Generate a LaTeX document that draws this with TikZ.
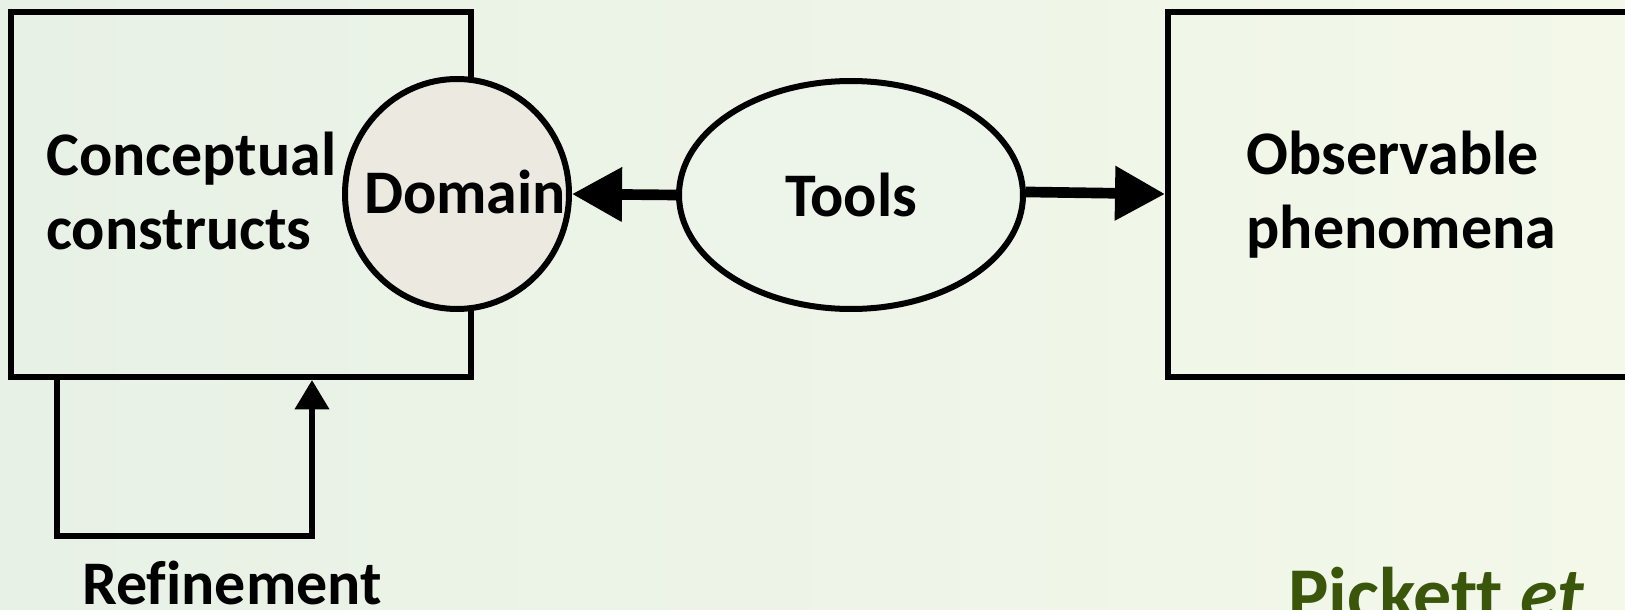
\documentclass[tikz,border=0pt]{standalone}
\usepackage{fontspec}
\setmainfont[Ligatures=NoCommon]{Carlito}
\usetikzlibrary{arrows.meta,shapes.geometric}
\definecolor{bgleft}{RGB}{232,241,230}
\definecolor{bgright}{RGB}{243,248,233}
\definecolor{domainfill}{RGB}{236,233,225}
\definecolor{toolsfill}{RGB}{237,244,233}
\definecolor{citegreen}{RGB}{58,86,10}
\begin{document}
\begin{tikzpicture}[x=0.75pt,y=-0.75pt,
  frame/.style={draw=black,line width=4.5pt,rectangle,inner sep=0pt,
    minimum height=273.75pt},
  lbl/.style={font=\fontsize{46.5}{55}\selectfont\bfseries,inner sep=0pt},
  bubble/.style={draw=black,line width=4.5pt,ellipse,inner sep=0pt},
  bigarrow/.style={line width=8pt,-{Triangle[length=37.5pt,width=39pt]}},
  loopline/.style={line width=4.5pt,-{Triangle[length=22pt,width=25pt]}},
  ]
\useasboundingbox (0,0) rectangle (1625,610);
\clip (0,0) rectangle (1625,610);
\shade[left color=bgleft,right color=bgright] (0,0) rectangle (1625,610);

% boxes
\node[frame,minimum width=345pt] (cbox) at (241,194.5) {};
\node[frame,minimum width=350.25pt,lbl,align=left] (obox) at (1401.5,194.5)
  {Observable\\phenomena};
\node[lbl,align=left,anchor=base west] (ctext) at (46,249)
  {Conceptual\\constructs};

% ellipses
\node[bubble,fill=domainfill,minimum width=168pt,minimum height=172.5pt]
  (domain) at (457,194) {};
\node[lbl,anchor=base] (dtext) at (465,213) {Domain};
\node[bubble,fill=toolsfill,minimum width=258pt,minimum height=171pt,lbl]
  (tools) at (851,195) {Tools};

% connectors
\draw[bigarrow] (tools.west) -- (domain.east);
\coordinate (otip) at (obox.west |- 0,194);
\draw[bigarrow] (tools.1) -- (otip);

% refinement loop
\coordinate (r1) at (57,536);
\coordinate (r2) at (312,536);
\draw[loopline] (cbox.south -| r1) -- (r1) -- (r2) -- (cbox.south -| r2);
\node[lbl,anchor=base] (rtext) at (232,604) {Refinement};

% citation
\node[font=\fontsize{57}{66}\selectfont\bfseries,text=citegreen,
  inner sep=0pt,anchor=base west] (cite) at (1288,620) {Pickett \textit{et}};
\end{tikzpicture}
\end{document}
